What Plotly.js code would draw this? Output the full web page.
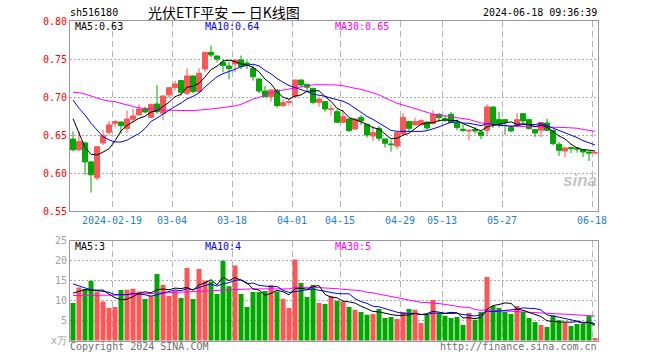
<!DOCTYPE html>
<html><head><meta charset="utf-8">
<script src="https://cdn.plot.ly/plotly-3.0.1.min.js"></script>
<style>html,body{margin:0;padding:0;background:#fff}#chart{width:660px;height:360px}</style>
</head><body><div id="chart"></div>
<script>
const dates = [
'2024-02-01','2024-02-02','2024-02-05','2024-02-06','2024-02-07','2024-02-08','2024-02-09','2024-02-19','2024-02-20','2024-02-21',
'2024-02-22','2024-02-23','2024-02-26','2024-02-27','2024-02-28','2024-02-29','2024-03-01','2024-03-04','2024-03-05','2024-03-06',
'2024-03-07','2024-03-08','2024-03-11','2024-03-12','2024-03-13','2024-03-14','2024-03-15','2024-03-18','2024-03-19','2024-03-20',
'2024-03-21','2024-03-22','2024-03-25','2024-03-26','2024-03-27','2024-03-28','2024-03-29','2024-04-01','2024-04-02','2024-04-03',
'2024-04-08','2024-04-09','2024-04-10','2024-04-11','2024-04-12','2024-04-15','2024-04-16','2024-04-17','2024-04-18','2024-04-19',
'2024-04-22','2024-04-23','2024-04-24','2024-04-25','2024-04-26','2024-04-29','2024-04-30','2024-05-06','2024-05-07','2024-05-08',
'2024-05-09','2024-05-10','2024-05-13','2024-05-14','2024-05-15','2024-05-16','2024-05-17','2024-05-20','2024-05-21','2024-05-22',
'2024-05-23','2024-05-24','2024-05-27','2024-05-28','2024-05-29','2024-05-30','2024-05-31','2024-06-03','2024-06-04','2024-06-05',
'2024-06-06','2024-06-07','2024-06-11','2024-06-12','2024-06-13','2024-06-14','2024-06-17','2024-06-18'];

const openP = [
0.645,0.631,0.640,0.615,0.594,0.640,0.654,0.6658,0.6675,0.659,
0.671,0.6768,0.6846,0.6737,0.6912,0.679,0.703,0.7127,0.722,0.7053,
0.7281,0.7075,0.7373,0.7592,0.7544,0.746,0.7412,0.7439,0.7491,0.745,
0.738,0.7241,0.7083,0.7009,0.7096,0.689,0.6934,0.7009,0.7228,0.7171,
0.7118,0.6934,0.6943,0.6842,0.6811,0.6671,0.6715,0.6583,0.6732,0.6645,
0.6491,0.6592,0.6452,0.6386,0.636,0.6518,0.668,0.6636,0.6636,0.6675,
0.6654,0.6776,0.6719,0.6776,0.6667,0.6579,0.6557,0.6575,0.6544,0.6566,
0.6873,0.6706,0.6706,0.6601,0.6632,0.6785,0.6706,0.6575,0.6566,0.6662,
0.6566,0.6382,0.6294,0.6338,0.6333,0.6311,0.6281,0.6268];
const highP = [
0.655,0.655,0.641,0.616,0.636,0.657,0.669,0.670,0.6678,0.6825,
0.6846,0.6908,0.6877,0.691,0.7162,0.702,0.7135,0.722,0.7225,0.7382,
0.7285,0.7382,0.7595,0.768,0.7548,0.750,0.747,0.7495,0.755,0.7485,
0.742,0.7245,0.7149,0.7105,0.710,0.6974,0.6987,0.723,0.7232,0.7175,
0.712,0.698,0.6945,0.6899,0.6842,0.6833,0.6718,0.6718,0.6768,0.6648,
0.6623,0.6623,0.6455,0.6439,0.6538,0.6798,0.6683,0.6732,0.671,0.6678,
0.6829,0.6794,0.6763,0.6807,0.6706,0.664,0.6568,0.661,0.6547,0.6908,
0.6876,0.6807,0.6715,0.6632,0.6794,0.6794,0.6709,0.6578,0.667,0.6719,
0.6569,0.6412,0.6346,0.634,0.6346,0.6313,0.6283,0.629];
const lowP = [
0.629,0.629,0.598,0.5746,0.591,0.637,0.650,0.6605,0.652,0.6535,
0.6667,0.676,0.679,0.6724,0.678,0.670,0.6987,0.7088,0.7018,0.703,
0.7053,0.705,0.7329,0.7526,0.746,0.733,0.7237,0.733,0.737,0.737,
0.722,0.7053,0.700,0.6943,0.6864,0.6877,0.689,0.700,0.7132,0.7066,
0.6908,0.6877,0.6811,0.6759,0.6658,0.6658,0.6548,0.657,0.6636,0.6469,
0.6425,0.6425,0.6338,0.6285,0.6316,0.6491,0.6557,0.6632,0.6632,0.6566,
0.664,0.6675,0.6675,0.6665,0.6566,0.6544,0.6434,0.6522,0.6447,0.6491,
0.6596,0.66,0.6504,0.6544,0.661,0.6662,0.6575,0.6478,0.6478,0.6557,
0.6368,0.6228,0.6215,0.6268,0.6272,0.6215,0.6162,0.6246];
const closeP = [
0.631,0.6417,0.615,0.598,0.635,0.6496,0.6636,0.668,0.6627,0.6715,
0.6754,0.6846,0.6807,0.6908,0.6811,0.7018,0.7127,0.7175,0.7066,0.7281,
0.7075,0.7316,0.7592,0.7557,0.7504,0.7417,0.7377,0.7491,0.7404,0.743,
0.727,0.7083,0.7009,0.7096,0.689,0.693,0.6943,0.7228,0.7162,0.7132,
0.6934,0.6978,0.6846,0.6846,0.6671,0.6746,0.6561,0.6715,0.6689,0.6504,
0.6535,0.6461,0.6395,0.6377,0.6535,0.6737,0.6592,0.668,0.6693,0.6596,
0.6776,0.6732,0.6706,0.6667,0.6601,0.6566,0.6566,0.6557,0.65,0.6873,
0.6654,0.664,0.6667,0.6557,0.6706,0.6689,0.6588,0.6531,0.6667,0.6566,
0.639,0.6303,0.6333,0.6325,0.632,0.6281,0.6268,0.6272];

const volume = [
9.4,13.3,12.9,15,12.3,9.8,8.2,8.4,12.7,12.75,
13,12.3,10.4,11.3,16.7,14,11.25,12.5,10.7,18.2,
10.4,17.9,15,14.8,11.7,20,13.6,18.8,11.7,8.4,
12.2,12.2,12.4,13.9,12.3,10.5,8.2,20.3,14.4,10.9,
13.9,9.4,9.2,11.1,10,9.8,8.4,7.75,7.2,6.5,
6.7,7.9,5.7,5.9,5.4,7.2,7.9,7.75,4.4,6.5,
10.2,6.8,6.25,5.7,5.9,3.9,6.9,5.25,7.2,15.9,
8.7,8.2,7.2,6.7,8.7,7.2,5.7,4.7,3.9,3.4,
6.3,5.1,4.6,3.7,4.2,4.2,6.25,0.7];

const priceMA5 = [
0.672,0.652,0.634,0.625,0.6241,0.6279,0.6322,0.6428,0.6558,0.6631,
0.6682,0.6724,0.675,0.6806,0.6825,0.6878,0.6934,0.7008,0.7039,0.7133,
0.7145,0.7183,0.7266,0.7364,0.7409,0.7477,0.7489,0.7469,0.7439,0.7424,
0.7394,0.7336,0.7239,0.7178,0.707,0.7002,0.6974,0.7017,0.7031,0.7079,
0.708,0.7087,0.701,0.6947,0.6855,0.6817,0.6734,0.6708,0.6676,0.6643,
0.6601,0.6581,0.6517,0.6454,0.6461,0.6501,0.6527,0.6584,0.6647,0.666,
0.6667,0.6695,0.6701,0.6695,0.6696,0.6654,0.6621,0.6591,0.6558,0.6612,
0.663,0.6645,0.6667,0.6678,0.6645,0.6652,0.6641,0.6614,0.6636,0.6608,
0.6548,0.6491,0.6452,0.6383,0.6334,0.6312,0.6305,0.6293];
const priceMA10 = [
0.6965,0.6855,0.6768,0.6658,0.657,0.6482,0.644,0.6412,0.6412,0.6436,
0.6481,0.6523,0.6589,0.6682,0.6728,0.678,0.6829,0.6879,0.6923,0.6979,
0.7012,0.7059,0.7137,0.7202,0.7271,0.7311,0.7336,0.7368,0.7402,0.7417,
0.7436,0.7413,0.7354,0.7309,0.7247,0.7198,0.7155,0.7128,0.7105,0.7075,
0.7041,0.7031,0.7014,0.6989,0.6967,0.6949,0.6911,0.6859,0.6812,0.6749,
0.6709,0.6658,0.6613,0.6565,0.6552,0.6551,0.6554,0.6551,0.6551,0.6561,
0.6584,0.6611,0.6643,0.6671,0.6678,0.6661,0.6658,0.6646,0.6627,0.6654,
0.6642,0.6633,0.6629,0.6618,0.6629,0.6641,0.6643,0.6641,0.6657,0.6627,
0.66,0.6566,0.6533,0.651,0.6471,0.643,0.6398,0.6373];
const priceMA30 = [
0.7066,0.706,0.7044,0.7018,0.6987,0.6965,0.6952,0.6943,0.692,0.6899,
0.6877,0.686,0.6855,0.6851,0.6842,0.6833,0.6829,0.6825,0.6825,0.6825,
0.6825,0.6829,0.6842,0.6846,0.6855,0.6864,0.6877,0.6886,0.6908,0.6944,
0.6976,0.6998,0.7027,0.7064,0.7082,0.7096,0.7107,0.7125,0.7143,0.7157,
0.7163,0.7167,0.7168,0.7166,0.7162,0.7153,0.7134,0.7118,0.7106,0.708,
0.7062,0.7033,0.6993,0.6954,0.6922,0.6899,0.6873,0.6846,0.6822,0.6794,
0.6778,0.6766,0.6756,0.6742,0.6732,0.672,0.6708,0.6685,0.6663,0.6655,
0.6645,0.6634,0.6628,0.6618,0.6619,0.6618,0.6618,0.6612,0.6612,0.6614,
0.6609,0.6604,0.6602,0.66,0.6593,0.6577,0.6567,0.6553];

const volMA5 = [
11.9,12.3,12.75,12.6,12.58,12.66,11.64,10.74,10.28,10.37,
11.01,11.83,12.23,11.95,12.74,12.94,12.73,13.15,13.03,13.33,
12.61,13.94,14.44,15.26,13.96,15.88,15.02,15.78,15.16,14.5,
12.94,12.66,11.38,11.82,12.6,12.26,11.46,13.04,13.14,12.86,
13.54,13.78,11.56,10.9,10.72,9.9,9.7,9.41,8.63,7.93,
7.31,7.21,6.8,6.54,6.32,6.42,6.42,6.83,6.53,6.75,
7.35,7.13,6.83,7.09,6.97,5.71,5.73,5.53,5.83,7.83,
8.79,9.05,9.44,9.34,7.9,7.6,7.1,6.6,6.04,4.98,
4.8,4.68,4.66,4.62,4.78,4.36,4.59,3.81];
const volMA10 = [
14.2,13.6,13.2,12.75,12.5,12.3,12.1,11.5,11.5,11.48,
11.84,11.74,11.49,11.12,11.56,11.98,12.28,12.69,12.49,13.04,
12.78,13.34,13.8,14.15,13.65,14.25,14.48,15.11,15.21,14.23,
14.41,13.84,13.58,13.49,13.55,12.6,12.06,12.21,12.48,12.73,
12.9,12.62,12.3,12.02,11.79,11.72,11.74,10.49,9.77,9.33,
8.61,8.46,8.11,7.59,7.13,6.87,6.82,6.82,6.54,6.54,
6.89,6.78,6.83,6.81,6.86,6.53,6.43,6.18,6.46,7.4,
7.25,7.39,7.49,7.59,7.87,8.2,8.08,8.02,7.69,6.44,
6.2,5.89,5.63,5.33,4.88,4.58,4.64,4.24];
const volMA30 = [
11.3,11.3,11.3,11.3,11.3,11.35,11.4,11.4,11.5,11.6,
11.7,11.7,11.75,11.8,11.85,11.9,11.95,12.0,12.1,12.2,
12.3,12.35,12.4,12.5,12.6,12.7,12.75,12.8,12.85,12.91,
13.01,12.97,12.95,12.92,12.92,12.94,12.94,13.34,13.39,13.33,
13.36,13.27,13.23,13.22,13.0,12.86,12.76,12.6,12.49,12.1,
11.97,11.64,11.33,11.03,10.82,10.4,10.21,9.84,9.59,9.53,
9.46,9.28,9.08,8.81,8.59,8.37,8.33,7.83,7.59,7.75,
7.58,7.54,7.47,7.33,7.28,7.2,7.11,7.0,6.9,6.79,
6.78,6.69,6.65,6.58,6.54,6.44,6.38,6.15];

const tickDates = ['2024-02-19','2024-03-04','2024-03-18','2024-04-01','2024-04-15','2024-04-29','2024-05-13','2024-05-27','2024-06-18'];
const tickLabels = ['2024-02-19','03-04','03-18','04-01','04-15','04-29','05-13','05-27','06-18'];
const priceTicks = [0.55,0.60,0.65,0.70,0.75,0.80];
const priceTickText = ['0.55','0.60','0.65','0.70','0.75','0.80'];
const volTicks = [0,5,10,15,20,25];
const volTickText = ['x万','5','10','15','20','25'];

const W=660,H=360;
const px=x=>x/W, py=y=>1-y/H;
const MONO='DejaVu Sans Mono, monospace';
const RED='#ff5555', GREEN='#00a800';
const idx = dates.map((d,i)=>i);
const tickIdx = tickDates.map(d=>dates.indexOf(d)-0.5);
const volColors = idx.map(i=>closeP[i]>openP[i]?RED:GREEN);

const traces = [
 {type:'candlestick',x:idx,open:openP,high:highP,low:lowP,close:closeP,xaxis:'x',yaxis:'y',
  whiskerwidth:0,
  increasing:{line:{color:RED,width:1},fillcolor:RED},
  decreasing:{line:{color:GREEN,width:1},fillcolor:GREEN},hoverinfo:'skip'},
 {type:'scatter',mode:'lines',x:idx,y:priceMA30,line:{color:'#ff00ff',width:1},xaxis:'x',yaxis:'y'},
 {type:'scatter',mode:'lines',x:idx,y:priceMA10,line:{color:'#0000ff',width:1},xaxis:'x',yaxis:'y'},
 {type:'scatter',mode:'lines',x:idx,y:priceMA5,line:{color:'#000000',width:1},xaxis:'x',yaxis:'y'},
 {type:'bar',x:idx,y:volume,marker:{color:volColors,line:{width:0}},xaxis:'x2',yaxis:'y2'},
 {type:'scatter',mode:'lines',x:idx,y:volMA30,line:{color:'#ff00ff',width:1},xaxis:'x2',yaxis:'y2'},
 {type:'scatter',mode:'lines',x:idx,y:volMA10,line:{color:'#0000ff',width:1},xaxis:'x2',yaxis:'y2'},
 {type:'scatter',mode:'lines',x:idx,y:volMA5,line:{color:'#000000',width:1},xaxis:'x2',yaxis:'y2'}
];

const xCommon = {range:[-0.5,87.5],tickvals:tickIdx,showgrid:true,gridcolor:'#b4b4b4',griddash:'6px,4px',gridwidth:1,
  showline:true,mirror:true,linecolor:'#9a9a9a',linewidth:1,zeroline:false,ticks:'',fixedrange:true};
const layout = {
 width:W,height:H,margin:{l:0,r:0,t:0,b:0},paper_bgcolor:'#fff',plot_bgcolor:'#fff',showlegend:false,
 boxgap:0.17,boxgroupgap:0,bargap:0.17,
 xaxis:Object.assign({},xCommon,{domain:[px(70),px(598)],anchor:'y',ticktext:tickLabels,
   tickfont:{family:MONO,size:10,color:'#1f7fd6'},rangeslider:{visible:false}}),
 yaxis:{domain:[py(211.3),py(21.3)],range:[0.55,0.80],anchor:'x',tickvals:priceTicks,ticktext:priceTickText,
   tickfont:{family:MONO,size:10,color:'#ff0000'},showgrid:true,gridcolor:'#aaaaaa',griddash:'2px,2px',
   showline:true,mirror:true,linecolor:'#9a9a9a',linewidth:1,zeroline:false,ticks:'',fixedrange:true},
 xaxis2:Object.assign({},xCommon,{domain:[px(70),px(598)],anchor:'y2',matches:'x',showticklabels:false}),
 yaxis2:{domain:[py(340.7),py(240.7)],range:[0,25],anchor:'x2',tickvals:volTicks,ticktext:volTickText,
   tickfont:{family:MONO,size:10,color:'#a0a0a0'},showgrid:true,gridcolor:'#aaaaaa',griddash:'2px,2px',
   showline:true,mirror:true,linecolor:'#9a9a9a',linewidth:1,zeroline:false,ticks:'',fixedrange:true},
 annotations:[
  {text:'sh516180',x:px(69),y:py(12.5),xanchor:'left',font:{family:MONO,size:10,color:'#000'}},
  {text:'光伏ETF平安 一 日K线图',x:px(224),y:py(12.5),xanchor:'center',font:{family:'Noto Sans CJK SC',size:14,color:'#000'}},
  {text:'2024-06-18 09:36:39',x:px(598),y:py(12.5),xanchor:'right',font:{family:MONO,size:10,color:'#000'}},
  {text:'MA5:0.63',x:px(74),y:py(26.5),xanchor:'left',font:{family:MONO,size:10,color:'#000'}},
  {text:'MA10:0.64',x:px(204),y:py(26.5),xanchor:'left',font:{family:MONO,size:10,color:'#0000ff'}},
  {text:'MA30:0.65',x:px(334),y:py(26.5),xanchor:'left',font:{family:MONO,size:10,color:'#ff00ff'}},
  {text:'MA5:3',x:px(74),y:py(246.5),xanchor:'left',font:{family:MONO,size:10,color:'#000'}},
  {text:'MA10:4',x:px(204),y:py(246.5),xanchor:'left',font:{family:MONO,size:10,color:'#0000ff'}},
  {text:'MA30:5',x:px(334),y:py(246.5),xanchor:'left',font:{family:MONO,size:10,color:'#ff00ff'}},
  {text:'Copyright 2024 SINA.COM',x:px(69),y:py(346.5),xanchor:'left',font:{family:MONO,size:10,color:'#707070'}},
  {text:'http://finance.sina.com.cn',x:px(598),y:py(346.5),xanchor:'right',font:{family:MONO,size:10,color:'#707070'}},
  {text:'<b><i>sina</i></b>',x:px(580),y:py(180),xanchor:'center',font:{family:'Liberation Sans',size:17,color:'rgba(170,170,170,0.7)'}}
 ].map(a=>Object.assign({xref:'paper',yref:'paper',yanchor:'middle',showarrow:false,borderpad:0},a))
};
Plotly.newPlot('chart',traces,layout,{staticPlot:true,displayModeBar:false});
</script></body></html>
